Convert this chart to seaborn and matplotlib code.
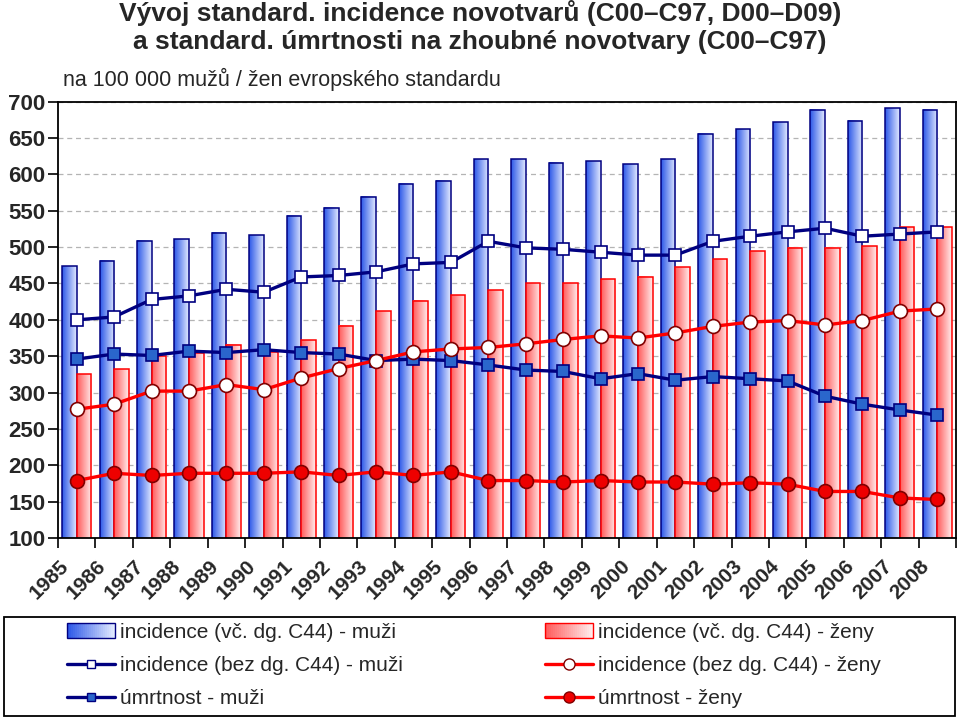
import numpy as np
import pandas as pd
import seaborn as sns
import matplotlib.pyplot as plt
from matplotlib.colors import LinearSegmentedColormap
from matplotlib.patches import Rectangle, Patch
from matplotlib.lines import Line2D
from matplotlib.legend_handler import HandlerBase
from matplotlib.transforms import ScaledTranslation

# data
years = [str(y) for y in range(1985, 2009)]
inc_men = [474, 481, 509, 511, 520, 516, 543, 554, 569, 587, 591, 621,
           621, 616, 618, 614, 621, 656, 662, 672, 689, 674, 691, 689]
inc_women = [325, 332, 350, 354, 366, 356, 372, 392, 412, 426, 434, 441,
             450, 450, 456, 459, 472, 483, 494, 499, 499, 501, 527, 527]
inc_men_bez = [400, 404, 428, 433, 442, 438, 459, 461, 466, 477, 479, 508,
               499, 497, 493, 489, 489, 508, 515, 521, 526, 515, 518, 521]
inc_women_bez = [277, 284, 302, 302, 311, 304, 320, 333, 344, 356, 360, 362,
                 367, 373, 378, 375, 382, 391, 397, 399, 393, 399, 412, 415]
mort_men = [346, 353, 351, 357, 355, 359, 355, 353, 344, 346, 344, 338,
            331, 329, 319, 326, 317, 322, 319, 316, 295, 284, 276, 269]
mort_women = [179, 189, 186, 189, 189, 189, 191, 186, 191, 186, 191, 179,
              179, 177, 179, 177, 177, 174, 176, 174, 164, 164, 155, 153]

labels_men = ['incidence (vč. dg. C44) - muži', 'incidence (bez dg. C44) - muži', 'úmrtnost - muži']
labels_women = ['incidence (vč. dg. C44) - ženy', 'incidence (bez dg. C44) - ženy', 'úmrtnost - ženy']

NAVY = '#000080'
RED = '#ff0000'
DARKRED = '#800000'
blue_cmap = LinearSegmentedColormap.from_list('blue_grad', ['#2d58e8', '#e2eaff'])
red_cmap = LinearSegmentedColormap.from_list('red_grad', ['#ff5c5c', '#ffecec'])

sns.set_theme(style='white')
plt.rcParams['font.family'] = ['Liberation Sans', 'DejaVu Sans']

fig = plt.figure(figsize=(9.6, 7.19), dpi=100)
ax = fig.add_axes([58 / 960, 1 - 538 / 719, 898 / 960, 436.3 / 719])

df = pd.DataFrame({
    'rok': years * 2,
    'hodnota': inc_men + inc_women,
    'pohlavi': ['muži'] * len(years) + ['ženy'] * len(years),
})
sns.barplot(data=df, x='rok', y='hodnota', hue='pohlavi', hue_order=['muži', 'ženy'],
            palette=['#4a6ee8', '#ff8080'], saturation=1, width=0.78,
            legend=False, ax=ax)

ax.set_xlim(-0.5, len(years) - 0.5)
ax.set_ylim(100, 700)

# gradient fill for the bars
grad = np.linspace(0, 1, 64).reshape(1, -1)
n = len(years)
for i, bar in enumerate(list(ax.patches)):
    men = i < n
    z = 1.0 if men else 1.2
    x0, y0 = bar.get_x(), bar.get_y()
    w, h = bar.get_width(), bar.get_height()
    im = ax.imshow(grad, extent=[x0, x0 + w, y0, y0 + h], aspect='auto',
                   cmap=blue_cmap if men else red_cmap, origin='lower',
                   interpolation='bilinear', zorder=z)
    im.set_clip_path(bar)
    im.set_clip_box(ax.bbox)
    bar.set_facecolor('none')
    bar.set_edgecolor(NAVY if men else RED)
    bar.set_linewidth(1.1)
    bar.set_zorder(z + 0.1)

idx = np.arange(n)
line_kw = dict(ax=ax, linewidth=2.4, markeredgewidth=1.2)
sns.lineplot(x=idx, y=inc_men_bez, color=NAVY, marker='s', markersize=8,
             markerfacecolor='white', markeredgecolor=NAVY, zorder=5, **line_kw)
sns.lineplot(x=idx, y=mort_men, color=NAVY, marker='s', markersize=8,
             markerfacecolor='#2a66cc', markeredgecolor=NAVY, zorder=5, **line_kw)
sns.lineplot(x=idx, y=inc_women_bez, color=RED, marker='o', markersize=10,
             markerfacecolor='white', markeredgecolor=DARKRED, zorder=6, **line_kw)
sns.lineplot(x=idx, y=mort_women, color=RED, marker='o', markersize=10,
             markerfacecolor='#ee0000', markeredgecolor=DARKRED, zorder=6, **line_kw)

ax.set_xlim(-0.5, n - 0.5)
ax.set_ylim(100, 700)
ax.set_yticks(range(100, 701, 50))
ax.set_xlabel('')
ax.set_ylabel('')
ax.grid(axis='y', color='#b4b4b4', linestyle=(0, (4, 3)), linewidth=0.9)
ax.grid(axis='x', visible=False)
ax.set_axisbelow(True)
for sp in ax.spines.values():
    sp.set_color('black')
    sp.set_linewidth(1.3)
    sp.set_visible(True)

ax.set_xticks(idx)
ax.set_xticklabels(years, rotation=45, ha='right', va='center',
                   rotation_mode='anchor', fontweight='bold', fontsize=15)
ax.set_xticks(np.arange(-0.5, n, 1), minor=True)
ax.tick_params(axis='x', which='major', length=0, pad=18)
ax.tick_params(axis='x', which='minor', length=7, width=1.2, color='black',
               direction='out', bottom=True)
ax.tick_params(axis='y', length=7, width=1.2, color='black', direction='out',
               left=True, pad=2, labelsize=16)
for lab in ax.get_yticklabels():
    lab.set_fontweight('bold')
shift = ScaledTranslation(-8 / 72, 0, fig.dpi_scale_trans)
for lab in ax.get_xticklabels():
    lab.set_transform(lab.get_transform() + shift)

fig.text(0.5, 1 - 0 / 719,
         'Vývoj standard. incidence novotvarů (C00–C97, D00–D09)\n'
         'a standard. úmrtnosti na zhoubné novotvary (C00–C97)',
         ha='center', va='top', fontsize=19, fontweight='bold', linespacing=1.2)
fig.text(63 / 960, 1 - 68 / 719, 'na 100 000 mužů / žen evropského standardu',
         ha='left', va='top', fontsize=15.5)


class GradientHandler(HandlerBase):
    def __init__(self, cmap, edge):
        super().__init__()
        self.cmap = cmap
        self.edge = edge

    def create_artists(self, legend, orig_handle, xdescent, ydescent,
                       width, height, fontsize, trans):
        arts = []
        k = 24
        for j in range(k):
            arts.append(Rectangle((-xdescent + width * j / k, -ydescent),
                                  width / k * 1.05, height,
                                  facecolor=self.cmap(j / (k - 1)),
                                  edgecolor='none', transform=trans))
        arts.append(Rectangle((-xdescent, -ydescent), width, height, fill=False,
                              edgecolor=self.edge, linewidth=1, transform=trans))
        return arts


bar_men = Patch()
bar_women = Patch()
handles_men = [
    bar_men,
    Line2D([], [], color=NAVY, lw=2.4, marker='s', markersize=6,
           markerfacecolor='white', markeredgecolor=NAVY),
    Line2D([], [], color=NAVY, lw=2.4, marker='s', markersize=6,
           markerfacecolor='#2a66cc', markeredgecolor=NAVY),
]
handles_women = [
    bar_women,
    Line2D([], [], color=RED, lw=2.4, marker='o', markersize=8,
           markerfacecolor='white', markeredgecolor=DARKRED),
    Line2D([], [], color=RED, lw=2.4, marker='o', markersize=8,
           markerfacecolor='#ee0000', markeredgecolor=DARKRED),
]
leg_kw = dict(loc='upper left', frameon=False, fontsize=15, handlelength=2.3,
              handletextpad=0.25, labelspacing=0.68, borderpad=0, borderaxespad=0)
fig.legend(handles_men, labels_men, bbox_to_anchor=(67 / 960, 1 - 623 / 719),
           handler_map={bar_men: GradientHandler(blue_cmap, NAVY)}, **leg_kw)
fig.legend(handles_women, labels_women, bbox_to_anchor=(545 / 960, 1 - 623 / 719),
           handler_map={bar_women: GradientHandler(red_cmap, RED)}, **leg_kw)

fig.patches.append(Rectangle((4 / 960, 1 - 716 / 719), 951 / 960, 99 / 719,
                             transform=fig.transFigure, fill=False,
                             edgecolor='black', linewidth=1.3))

fig.savefig('out.png', dpi=100)
